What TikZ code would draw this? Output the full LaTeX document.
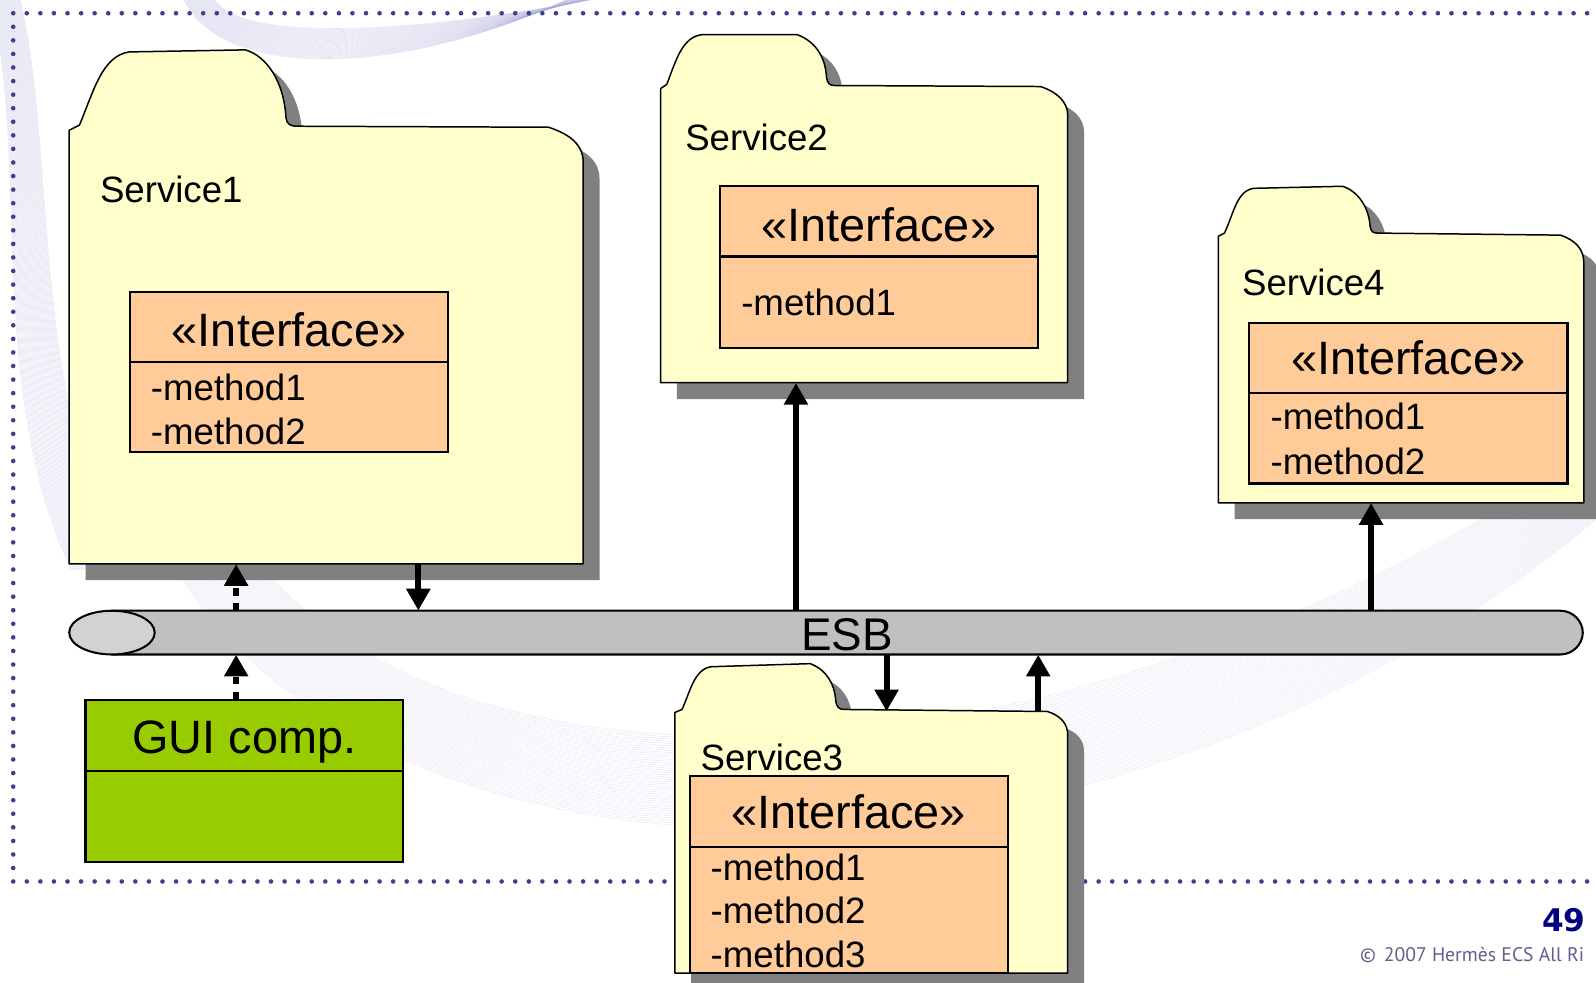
\documentclass[tikz,border=0pt]{standalone}
\usepackage{fontspec}
\setmainfont{Liberation Sans}
\newfontfamily\pagenumfont{DejaVu Sans}
\newfontfamily\notefont{PT Sans}
\usetikzlibrary{arrows.meta,fit}

\definecolor{foldfill}{HTML}{FFFFCC}
\definecolor{ifill}{HTML}{FFCC99}
\definecolor{shade}{HTML}{808080}
\definecolor{busfill}{HTML}{C0C0C0}
\definecolor{busend}{HTML}{D2D2D2}
\definecolor{guifill}{HTML}{99CC00}
\definecolor{dotc}{HTML}{3F3F8F}
\definecolor{numc}{HTML}{000080}
\definecolor{notec}{HTML}{5F5F90}
\definecolor{swirlc}{RGB}{170,170,220}

\newcommand\fsize[1]{\fontsize{#1}{#1}\selectfont}

% folder outlines (tab + body), drawn with the options given
\newcommand\folderone[1]{\path[#1] (68,554) -- (68,128) -- (78,123)
  .. controls (92,90) and (100,55) .. (127,51) -- (241,49)
  .. controls (262,55) and (279,80) .. (281,116)
  .. controls (282,122) and (285,124) .. (292,124) -- (539,125)
  .. controls (560,132) and (573,142) .. (573,160) -- (573,554) -- cycle;}
\newcommand\foldertwo[1]{\path[#1] (649,376) -- (649,87) -- (655,83)
  .. controls (664,60) and (670,36) .. (690,34) -- (783,34)
  .. controls (800,40) and (811,55) .. (812,76)
  .. controls (813,82) and (815,84) .. (820,84) -- (1022,85)
  .. controls (1038,90) and (1049,100) .. (1049,113) -- (1049,376) -- cycle;}
\newcommand\folderthree[1]{\path[#1] (663,956) -- (663,700) -- (670,697)
  .. controls (678,680) and (682,657) .. (699,655) -- (796,652)
  .. controls (812,658) and (820,672) .. (821,688)
  .. controls (822,695) and (824,697) .. (830,697) -- (1029,699)
  .. controls (1042,703) and (1049,711) .. (1049,722) -- (1049,956) -- cycle;}
\newcommand\folderfour[1]{\path[#1] (1197,494) -- (1197,232) -- (1203,229)
  .. controls (1212,210) and (1215,187) .. (1232,185) -- (1319,183)
  .. controls (1335,188) and (1345,205) .. (1346,222)
  .. controls (1347,228) and (1349,229) .. (1354,229) -- (1533,231)
  .. controls (1548,236) and (1556,245) .. (1556,258) -- (1556,494) -- cycle;}

\begin{document}
\begin{tikzpicture}[x=0.75pt,y=-0.75pt,
  folder/.style={fill=foldfill,draw=black,line width=1.1pt,line join=round},
  fshadow/.style={fill=shade,shift={(16,16)}},
  ifbox/.style={fill=ifill,draw=black,line width=1.5pt,inner sep=0pt},
  guibox/.style={fill=guifill,draw=black,line width=1.5pt,inner sep=0pt},
  area/.style={inner sep=0pt},
  rule/.style={draw=black,line width=1.5pt},
  svcname/.style={font=\fsize{27},inner sep=0pt,anchor=base west},
  stereo/.style={font=\fsize{34.5},inner sep=0pt,anchor=base},
  meth/.style={font=\fsize{27},inner sep=0pt,anchor=base west},
  link/.style={line width=4.5pt,-{Triangle[length=16pt,width=17pt]}},
  dlink/.style={link,dash pattern=on 5.5pt off 5.5pt},
  swirl/.style={draw=swirlc,line width=0.4pt,opacity=0.28},
  dot/.style={fill=dotc}
]
\useasboundingbox (0,0) rectangle (1568,965);
\fill[white] (0,0) rectangle (1568,965);

% faint background ribbons
\foreach \t in {0,0.025,...,1.001}
  \draw[swirl] ({180+80*\t},{570-10*\t}) .. controls ({400+60*\t},{905-110*\t})
    and ({1100-60*\t},{905-110*\t}) .. (1568,{510-70*\t});
\foreach \t in {0,0.025,...,1.001}
  \draw[swirl] ({180+30*\t},-2) .. controls ({215+15*\t},{78-40*\t})
    and ({390-10*\t},{78-40*\t}) .. ({560+30*\t},-2);
\foreach \t in {0,0.025,...,1.001}
  \draw[swirl] ({-10+30*\t},0) .. controls ({30+25*\t},150)
    and ({-15+45*\t},380) .. ({70+50*\t},560);

% dotted frame
\foreach \k in {0,...,117} \fill[dot] ({13+\k*13.33},13) circle[radius=1.7pt];
\foreach \k in {1,...,63} \fill[dot] (13,{13+\k*13.33}) circle[radius=1.7pt];
\foreach \k in {0,...,117} \fill[dot] ({13+\k*13.33},866) circle[radius=1.7pt];

% Service1
\folderone{fshadow}
\folderone{folder}
\node[area,fit={(68,124) (573,554)}] (s1) {};
\node[svcname] (s1name) at (98,199) {Service1};
\node[ifbox,fit={(128,287) (440,444)}] (s1if) {};
\draw[rule] (128,356) -- (440,356);
\node[stereo] (s1st) at (284,340) {«Interface»};
\node[meth] (s1m1) at (148,393) {-method1};
\node[meth] (s1m2) at (148,437) {-method2};

% Service2
\foldertwo{fshadow}
\foldertwo{folder}
\node[area,fit={(649,85) (1049,376)}] (s2) {};
\node[svcname] (s2name) at (673,148) {Service2};
\node[ifbox,fit={(707,183) (1020,342)}] (s2if) {};
\draw[rule] (707,252) -- (1020,252);
\node[stereo] (s2st) at (863.5,237) {«Interface»};
\node[meth] (s2m1) at (728,310) {-method1};

% Service4
\folderfour{fshadow}
\folderfour{folder}
\node[area,fit={(1197,231) (1556,494)}] (s4) {};
\node[svcname] (s4name) at (1220,290) {Service4};
\node[ifbox,fit={(1227,317) (1540,475)}] (s4if) {};
\draw[rule] (1227,386) -- (1540,386);
\node[stereo] (s4st) at (1383.5,368) {«Interface»};
\node[meth] (s4m1) at (1248,422) {-method1};
\node[meth] (s4m2) at (1248,466) {-method2};

% Service3
\folderthree{fshadow}
\folderthree{folder}
\node[area,fit={(663,699) (1049,956)}] (s3) {};
\node[svcname] (s3name) at (688,757) {Service3};
\node[ifbox,fit={(678,762) (990,956)}] (s3if) {};
\draw[rule] (678,832) -- (990,832);
\node[stereo] (s3st) at (834,814) {«Interface»};
\node[meth] (s3m1) at (698,865) {-method1};
\node[meth] (s3m2) at (698,907) {-method2};
\node[meth] (s3m3) at (698,951) {-method3};

% ESB tube
\node[area,fit={(68,600) (1555,643)}] (esb) {};
\filldraw[fill=busfill,draw=black,line width=1.5pt] (110,600) -- (1533,600)
  .. controls (1545,600) and (1555,610) .. (1555,621.5)
  .. controls (1555,633) and (1545,643) .. (1533,643) -- (110,643) -- cycle;
\filldraw[fill=busend,draw=black,line width=1.5pt] (110,621.5)
  ellipse[x radius=31.5pt,y radius=16.1pt];
\node[font=\fsize{33.75},anchor=base,inner sep=0pt] (esbtxt) at (832,639) {ESB};

% GUI component
\node[guibox,fit={(84,688) (396,847)}] (gui) {};
\draw[rule] (84,757) -- (396,757);
\node[font=\fsize{34.5},anchor=base,inner sep=0pt] (guitxt) at (240,740) {GUI comp.};

% connectors
\coordinate (xa) at (232,0);
\coordinate (xb) at (411,0);
\coordinate (xc) at (782,0);
\coordinate (xd) at (1347,0);
\coordinate (xe) at (871,0);
\coordinate (xf) at (1020,0);
\draw[dlink] (esb.north -| xa) -- (s1.south -| xa);
\draw[dlink] (gui.north -| xa) -- (esb.south -| xa);
\draw[link] (s1.south -| xb) -- (esb.north -| xb);
\draw[link] (esb.north -| xc) -- (s2.south -| xc);
\draw[link] (esb.north -| xd) -- (s4.south -| xd);
\draw[link] (esb.south -| xe) -- (s3.north -| xe);
\draw[link] (s3.north -| xf) -- (esb.south -| xf);

% footer
\node[font=\pagenumfont\bfseries\fsize{23},text=numc,anchor=base east,inner sep=0pt] (pnum) at (1558,915) {49};
\node[font=\notefont\fsize{14.5},text=notec,anchor=base west,inner sep=0pt] (note) at (1336,945) {©\hspace{0.4em}2007 Hermès ECS All Ri};
\end{tikzpicture}
\end{document}
